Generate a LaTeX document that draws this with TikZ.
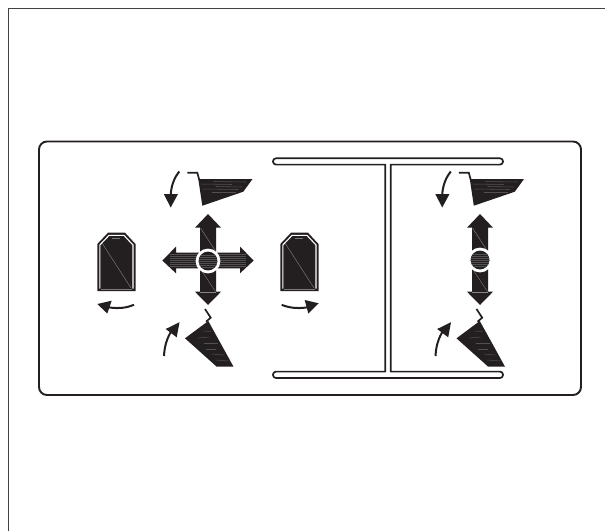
\documentclass[tikz,border=0pt]{standalone}
\definecolor{ink}{HTML}{231F20}
\tikzset{
  x=1pt,y=-1pt,
  frameline/.style={draw=ink!85,line width=1.1pt},
  boxline/.style={draw=ink,line width=1.9pt},
  beamline/.style={draw=ink,line width=1.7pt},
  curved/.style={draw=ink,line width=2pt},
  hookline/.style={draw=ink,line width=1.7pt},
  streak/.style={draw=ink!78,line width=0.7pt},
  fine/.style={draw=ink!55,line width=0.4pt}
}
\newcommand{\upperpaddle}{%
  \fill[ink] (198.3,179) -- (252.5,179) -- (243.3,191.7) -- (202.3,205.7) -- cycle;
  \draw[hookline] (187.3,172.7) -- (197.3,172.7) -- (199.3,180);
  \foreach \ya/\xa/\yb/\xb in {181.5/214/182/246, 184/201/184.5/232, 186.5/216/187/242, 189/203/189.5/238, 192/212/192/236}
    \draw[streak,line width=0.55pt] (\xa,\ya) -- (\xb,\yb);
  \draw[curved] (179.3,171.5) .. controls (174,178) and (171.2,186) .. (170.7,195);
  \fill[ink] (163.8,194) -- (178,194) -- (170.7,207.5) -- cycle;
}
\newcommand{\lowerpaddle}{%
  \fill[ink] (185,338.3) -- (208.3,321) -- (233.5,366.7) -- (216.7,366.7) -- cycle;
  \draw[hookline] (205,309) -- (210.7,317.7) -- (206,321.7);
  \foreach \xa/\ya/\xb/\yb in {203/331/211/331.5, 198/338/209/337, 204/343/218/343, 206/349/216/349, 212/354/224/355, 216/360/229/361}
    \draw[streak,line width=0.5pt] (\xa,\ya) -- (\xb,\yb);
  \draw[curved] (164,356) .. controls (164.5,346) and (167,338) .. (171.5,331);
  \fill[ink] (179.5,322.2) -- (165.7,329) -- (176.7,337.3) -- cycle;
}
\newcommand{\uparrowshape}{%
  \fill[ink] (208,214) -- (221,227.7) -- (216,227.7) -- (216,252) -- (200,252) -- (200,227.7) -- (195,227.7) -- cycle;
  \draw[fine] (200.5,228) -- (215.5,251);
}
\newcommand{\downarrowshape}{%
  \fill[ink] (208,305) -- (221,291.7) -- (216,291.7) -- (216,268) -- (200,268) -- (200,291.7) -- (195,291.7) -- cycle;
  \draw[fine] (200.5,269) -- (215.5,291.5);
  \draw[fine] (200,292) -- (216,292);
}
\newcommand{\hubshape}[1]{%
  \fill[white] (208,#1) circle (12.4);
  \fill[ink] (208,#1) circle (9.4);
  \begin{scope}
    \clip (208,#1) circle (9.4);
    \foreach \d in {-6,-4,-2,0,2,4,6}
      \draw[streak] (198,#1+\d) -- (218,#1+\d);
  \end{scope}
}
\newcommand{\cardshape}[1]{%
  \begin{scope}[xshift=#1]
    \fill[ink] (97.3,244) -- (108,232.7) -- (125,232.7) -- (135.5,244) -- (135.5,291) -- (97.3,291) -- cycle;
    \draw[white,line width=1.1pt] (99.8,288.5) -- (99.8,245) -- (109,235.4) -- (124,235.4) -- (133,245) -- (133,288.5);
    \draw[fine] (102,243) -- (131,288);
    \draw[draw=ink!60,line width=1.4pt] (101,289.2) -- (132,289.2);
    \draw[draw=ink!60,line width=0.8pt] (112,238) -- (120,238);
  \end{scope}
}
\begin{document}
\begin{tikzpicture}
\useasboundingbox (0,0) rectangle (605,531);
\fill[white] (0,0) rectangle (605,531);
% outer page frame
\draw[frameline] (605,8.5) -- (8.5,8.5) -- (8.5,531);
% panel
\draw[boxline,rounded corners=8pt] (39,141.5) rectangle (581,395);
% I-beam divider as one outline
\draw[beamline,line join=round]
  (390.7,164.6) [rounded corners=3pt] -- (503,164.6) -- (503,158.3) -- (273,158.3) -- (273,164.6)
  [sharp corners] -- (385.3,164.6) -- (385.3,371.6)
  [rounded corners=3pt] -- (273,371.6) -- (273,378) -- (503,378) -- (503,371.6)
  [sharp corners] -- (390.7,371.6) -- cycle;
% left group
\upperpaddle
\lowerpaddle
\uparrowshape
\downarrowshape
% horizontal double arrow
\fill[ink] (162.3,260.5) -- (176,246.7) -- (176,252.7) -- (240,252.7) -- (240,246.7) -- (253.7,260.5) -- (240,273.3) -- (240,268.3) -- (176,268.3) -- (176,273.3) -- cycle;
\foreach \d in {-6,-4,-2,0,2,4,6}
  \draw[streak] (170,260.5+\d) -- (246,260.5+\d);
\hubshape{261}
\cardshape{0}
\cardshape{183}
% card arrows
\draw[curved] (134,304.8) .. controls (127,307.8) and (119,308.8) .. (109,307.4);
\fill[ink] (97.3,304) -- (111.7,300.7) -- (107.3,313.5) -- cycle;
\draw[curved] (281.7,304.8) .. controls (289,307.8) and (297,308.8) .. (307,307.4);
\fill[ink] (318.7,303.3) -- (304.7,300) -- (308.3,313.5) -- cycle;
% right group
\begin{scope}[xshift=271.5]
  \upperpaddle
  \lowerpaddle
\end{scope}
\begin{scope}[xshift=272]
  \uparrowshape
  \downarrowshape
  \hubshape{260}
\end{scope}
\end{tikzpicture}
\end{document}
